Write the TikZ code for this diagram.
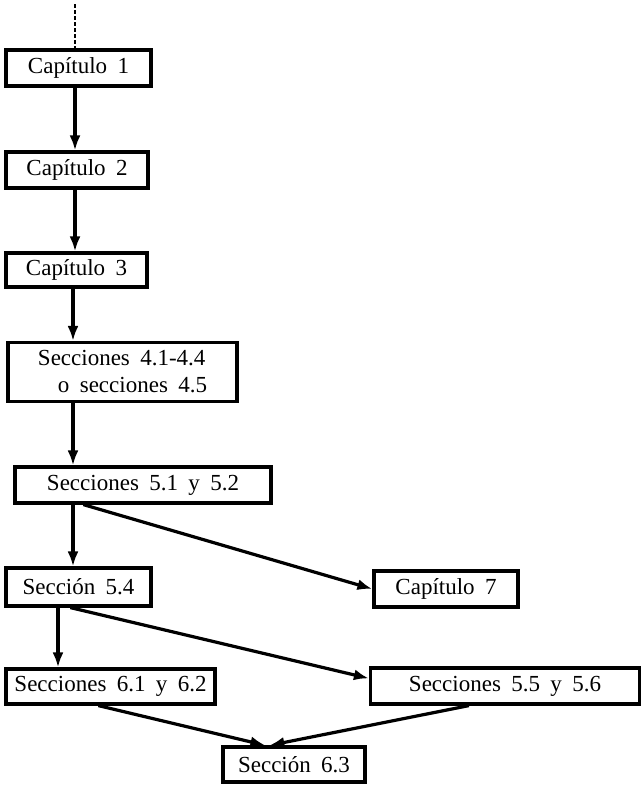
\documentclass[tikz,border=0pt]{standalone}
\usepackage{fontspec}
\setmainfont[WordSpace=1.8]{Liberation Serif}
\usetikzlibrary{arrows.meta}

\tikzset{
  caja/.style={draw, line width=3.2pt, inner sep=0pt, minimum height=36,
    font=\fontsize{23}{27}\selectfont},
  flecha/.style={->, line width=3.2pt}
}

\begin{document}
\begin{tikzpicture}[x=1pt, y=-1pt, >={Latex[length=15pt,width=11pt]}]
    % 1. Marco de la figura
    \useasboundingbox (0,0) rectangle (642,801);

    % 2. Cajas de capitulos y secciones
    \node[caja, minimum width=145] (cap1) at (78.5,68) {Capítulo 1};
    \node[caja, minimum width=142] (cap2) at (77,170) {Capítulo 2};
    \node[caja, minimum width=141, minimum height=34] (cap3) at (76.5,270) {Capítulo 3};
    \node[caja, minimum width=229, minimum height=59, align=left] (sec4) at (122.5,372)
        {Secciones 4.1-4.4\\\hspace*{20pt}o secciones 4.5};
    \node[caja, minimum width=256] (sec51) at (143,485) {Secciones 5.1 y 5.2};
    \node[caja, minimum width=145, minimum height=38] (sec54) at (78.5,587) {Sección 5.4};
    \node[caja, minimum width=144] (cap7) at (446,589) {Capítulo 7};
    \node[caja, minimum width=209, minimum height=35] (sec61) at (110.5,686.5) {Secciones 6.1 y 6.2};
    \node[caja, minimum width=269] (sec55) at (505,686) {Secciones 5.5 y 5.6};
    \node[caja, minimum width=142, minimum height=35] (sec63) at (294,764.5) {Sección 6.3};

    % 3. Entrada punteada
    \coordinate (entrada) at (75,4);
    \draw[dashed, line width=1.1pt, dash pattern=on 4pt off 2pt] (entrada) -- (entrada |- cap1.north);

    % 4. Flechas verticales
    \draw[flecha] (cap1.south -| entrada) -- (cap2.north -| entrada);
    \draw[flecha] (cap2.south -| entrada) -- (cap3.north -| entrada);
    \draw[flecha] ([xshift=-2pt]cap3.south -| entrada) -- ([xshift=-2pt]sec4.north -| entrada);
    \draw[flecha] ([xshift=-2pt]sec4.south -| entrada) -- ([xshift=-2pt]sec51.north -| entrada);
    \draw[flecha] ([xshift=-2pt]sec51.south -| entrada) -- ([xshift=-2pt]sec54.north -| entrada);
    \draw[flecha] ([xshift=-17pt]sec54.south -| entrada) -- ([xshift=-17pt]sec61.north -| entrada);

    % 5. Flechas diagonales
    \draw[flecha] ([xshift=70pt]sec51.south west) -- (cap7.west);
    \draw[flecha] ([xshift=66pt]sec54.south west) -- ([yshift=-12pt]sec55.north west);
    \draw[flecha] ([xshift=94pt]sec61.south west) -- ([xshift=44pt]sec63.north west);
    \draw[flecha] ([xshift=100pt]sec55.south west) -- ([xshift=48pt]sec63.north west);
\end{tikzpicture}
\end{document}
